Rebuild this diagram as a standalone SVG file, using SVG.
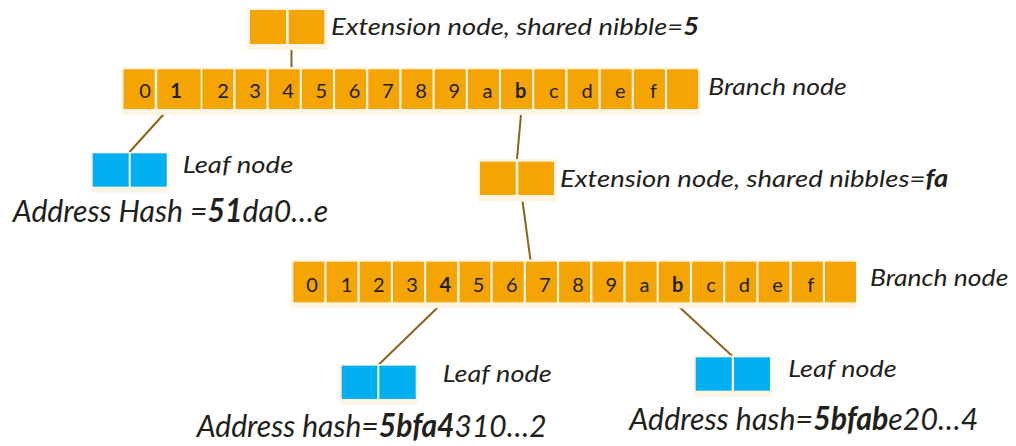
<svg xmlns="http://www.w3.org/2000/svg" width="1016" height="446" viewBox="0 0 1016 446">
  <style>
    .bg { fill: #FEF4E4; }
    .cell { fill: #F5A503; }
    .leaf { fill: #00B0F0; }
    .edge { stroke: #8A6418; stroke-width: 2; fill: none; }
    .d { font-family: Lato, "Open Sans", "Liberation Sans", sans-serif; font-size: 20px; fill: #231F1A; text-anchor: middle; }
    .b { font-weight: bold; }
    .lbl { font-family: Lato, "Open Sans", "Liberation Sans", sans-serif; font-style: italic; font-size: 24px; fill: #231F1A; }
    .big { font-family: Lato, "Open Sans", "Liberation Sans", sans-serif; font-style: italic; font-size: 31.5px; fill: #231F1A; }
  </style>

  <!-- connectors -->
  <g id="connectors">
    <line class="edge" x1="291.5" y1="49" x2="291.5" y2="68"/>
    <line class="edge" x1="167.5" y1="110" x2="129.5" y2="152"/>
    <line class="edge" x1="521.5" y1="109" x2="516.8" y2="161"/>
    <line class="edge" x1="521.7" y1="195" x2="530.6" y2="261"/>
    <line class="edge" x1="442.3" y1="303" x2="378.3" y2="365"/>
    <line class="edge" x1="675" y1="303" x2="733.3" y2="357"/>
  </g>

  <!-- extension node, shared nibble 5 -->
  <g id="ext1">
    <rect class="bg" x="247.5" y="8" width="80" height="42"/>
    <rect class="cell" x="250" y="10" width="36" height="34"/>
    <rect class="cell" x="288.7" y="10" width="35.6" height="34"/>
    <text class="lbl" x="331" y="35" textLength="368" lengthAdjust="spacingAndGlyphs">Extension node, shared nibble=<tspan class="b">5</tspan></text>
  </g>

  <!-- upper branch node -->
  <g id="branch1">
    <rect class="bg" x="121.5" y="67" width="578.5" height="48"/>
    <rect class="cell" x="123.5" y="69.3" width="31.2" height="39.7"/>
    <rect class="cell" x="157.2" y="69.3" width="43.5" height="39.7"/>
    <rect class="cell" x="202.3" y="69.3" width="31" height="39.7"/>
    <rect class="cell" x="235.5" y="69.3" width="31" height="39.7"/>
    <rect class="cell" x="268.7" y="69.3" width="31" height="39.7"/>
    <rect class="cell" x="301.9" y="69.3" width="31" height="39.7"/>
    <rect class="cell" x="335.1" y="69.3" width="31" height="39.7"/>
    <rect class="cell" x="368.3" y="69.3" width="31" height="39.7"/>
    <rect class="cell" x="401.5" y="69.3" width="31" height="39.7"/>
    <rect class="cell" x="434.7" y="69.3" width="31" height="39.7"/>
    <rect class="cell" x="467.9" y="69.3" width="31" height="39.7"/>
    <rect class="cell" x="501.1" y="69.3" width="31" height="39.7"/>
    <rect class="cell" x="534.3" y="69.3" width="31" height="39.7"/>
    <rect class="cell" x="567.5" y="69.3" width="31" height="39.7"/>
    <rect class="cell" x="600.7" y="69.3" width="31" height="39.7"/>
    <rect class="cell" x="633.9" y="69.3" width="31" height="39.7"/>
    <rect class="cell" x="667.1" y="69.3" width="31" height="39.7"/>
    <text class="d" x="145" y="98.3">0</text>
    <text class="d b" x="176" y="98.3">1</text>
    <text class="d" x="223" y="98.3">2</text>
    <text class="d" x="255" y="98.3">3</text>
    <text class="d" x="288" y="98.3">4</text>
    <text class="d" x="321.4" y="98.3">5</text>
    <text class="d" x="354.6" y="98.3">6</text>
    <text class="d" x="387.8" y="98.3">7</text>
    <text class="d" x="421" y="98.3">8</text>
    <text class="d" x="454.2" y="98.3">9</text>
    <text class="d" x="487.4" y="98.3">a</text>
    <text class="d b" x="520.6" y="98.3">b</text>
    <text class="d" x="553.8" y="98.3">c</text>
    <text class="d" x="587" y="98.3">d</text>
    <text class="d" x="620.2" y="98.3">e</text>
    <text class="d" x="653.4" y="98.3">f</text>
    <text class="lbl" x="708.3" y="95.3" textLength="138.4" lengthAdjust="spacingAndGlyphs">Branch node</text>
  </g>

  <!-- leaf under nibble 1 -->
  <g id="leaf1">
    <rect class="bg" x="91" y="152" width="78" height="40.7"/>
    <rect class="leaf" x="92.7" y="153.3" width="36" height="33.4"/>
    <rect class="leaf" x="130.7" y="153.3" width="36" height="33.4"/>
    <text class="lbl" x="182.7" y="172.7" textLength="110.6" lengthAdjust="spacingAndGlyphs">Leaf node</text>
    <text class="big" x="12.7" y="221.7" textLength="315.6" lengthAdjust="spacingAndGlyphs">Address Hash =<tspan class="b">51</tspan>da0…e</text>
  </g>

  <!-- extension node, shared nibbles fa -->
  <g id="ext2">
    <rect class="bg" x="477.7" y="159" width="79" height="42.7"/>
    <rect class="cell" x="480" y="161.7" width="35.7" height="33.3"/>
    <rect class="cell" x="518.3" y="161.7" width="35.7" height="33.3"/>
    <text class="lbl" x="560" y="186.7" textLength="388.3" lengthAdjust="spacingAndGlyphs">Extension node, shared nibbles=<tspan class="b">fa</tspan></text>
  </g>

  <!-- lower branch node -->
  <g id="branch2">
    <rect class="bg" x="291" y="259.5" width="565.7" height="48.8"/>
    <rect class="cell" x="293.3" y="261.7" width="31" height="40.6"/>
    <rect class="cell" x="326.5" y="261.7" width="31" height="40.6"/>
    <rect class="cell" x="359.8" y="261.7" width="31" height="40.6"/>
    <rect class="cell" x="393" y="261.7" width="31" height="40.6"/>
    <rect class="cell" x="426.2" y="261.7" width="31" height="40.6"/>
    <rect class="cell" x="459.5" y="261.7" width="31" height="40.6"/>
    <rect class="cell" x="492.7" y="261.7" width="31" height="40.6"/>
    <rect class="cell" x="525.9" y="261.7" width="31" height="40.6"/>
    <rect class="cell" x="559.1" y="261.7" width="31" height="40.6"/>
    <rect class="cell" x="592.4" y="261.7" width="31" height="40.6"/>
    <rect class="cell" x="625.6" y="261.7" width="31" height="40.6"/>
    <rect class="cell" x="658.8" y="261.7" width="31" height="40.6"/>
    <rect class="cell" x="692.1" y="261.7" width="31" height="40.6"/>
    <rect class="cell" x="725.3" y="261.7" width="31" height="40.6"/>
    <rect class="cell" x="758.5" y="261.7" width="31" height="40.6"/>
    <rect class="cell" x="791.8" y="261.7" width="31" height="40.6"/>
    <rect class="cell" x="825" y="261.7" width="31" height="40.6"/>
    <text class="d" x="312" y="291.7">0</text>
    <text class="d" x="346.5" y="291.7">1</text>
    <text class="d" x="378.8" y="291.7">2</text>
    <text class="d" x="412" y="291.7">3</text>
    <text class="d b" x="445.2" y="291.7">4</text>
    <text class="d" x="478.5" y="291.7">5</text>
    <text class="d" x="511.7" y="291.7">6</text>
    <text class="d" x="544.9" y="291.7">7</text>
    <text class="d" x="578.1" y="291.7">8</text>
    <text class="d" x="611.4" y="291.7">9</text>
    <text class="d" x="644.6" y="291.7">a</text>
    <text class="d b" x="677.8" y="291.7">b</text>
    <text class="d" x="711.1" y="291.7">c</text>
    <text class="d" x="744.3" y="291.7">d</text>
    <text class="d" x="777.5" y="291.7">e</text>
    <text class="d" x="810.8" y="291.7">f</text>
    <text class="lbl" x="870" y="285.7" textLength="138.3" lengthAdjust="spacingAndGlyphs">Branch node</text>
  </g>

  <!-- leaf under nibble 4 -->
  <g id="leaf2">
    <rect class="bg" x="339.3" y="364" width="78.4" height="41"/>
    <rect class="leaf" x="341.7" y="365.7" width="35.6" height="33.3"/>
    <rect class="leaf" x="379.3" y="365.7" width="36.4" height="33.3"/>
    <text class="lbl" x="442.7" y="381.7" textLength="109" lengthAdjust="spacingAndGlyphs">Leaf node</text>
    <text class="big" x="196.7" y="436.7" textLength="350" lengthAdjust="spacingAndGlyphs">Address hash=<tspan class="b">5bfa4</tspan>310…2</text>
  </g>

  <!-- leaf under nibble b -->
  <g id="leaf3">
    <rect class="bg" x="693.3" y="355.5" width="78.4" height="41.2"/>
    <rect class="leaf" x="695.7" y="357.3" width="36" height="33.4"/>
    <rect class="leaf" x="734" y="357.3" width="36" height="33.4"/>
    <text class="lbl" x="788.3" y="377.3" textLength="108.4" lengthAdjust="spacingAndGlyphs">Leaf node</text>
    <text class="big" x="629.3" y="430" textLength="349" lengthAdjust="spacingAndGlyphs">Address hash=<tspan class="b">5bfab</tspan>e20…4</text>
  </g>
</svg>
